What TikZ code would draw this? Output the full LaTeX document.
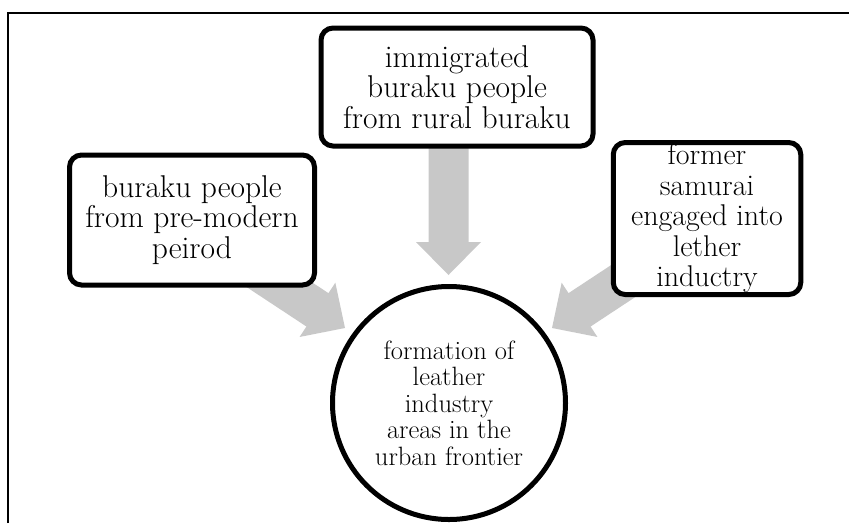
\documentclass[tikz,border=0pt]{standalone}
\usepackage{fontspec}
\setmainfont{Latin Modern Roman}
\definecolor{arrowgray}{RGB}{200,200,200}
% block arrow: tip point, direction angle, total length
\newcommand\blockarrow[3]{%
  \fill[arrowgray, shift={(#1)}, rotate=#2]
    (0,0) -- (-33,-32.5) -- (-33,-20) -- (-#3,-20) -- (-#3,20)
    -- (-33,20) -- (-33,32.5) -- cycle;}
\begin{document}
\begin{tikzpicture}[x=1pt,y=-1pt,
  stepbox/.style={draw=black, line width=5pt, rounded corners=12pt,
    fill=white, inner sep=0pt, align=center,
    font=\fontsize{31.5}{30.5}\selectfont},
  goal/.style={circle, draw=black, line width=5pt, fill=white,
    inner sep=0pt, minimum size=233pt, align=center,
    font=\fontsize{26.5}{26.5}\selectfont},
  frame/.style={line width=2pt, draw=black}]
\useasboundingbox (0,0) rectangle (849,523);

% open frame: top and left sides
\coordinate (fbl) at (8,523);
\coordinate (ftl) at (8,13);
\coordinate (ftr) at (849,13);
\draw[frame] (fbl) -- (ftl) -- (ftr);

% arrow tips next to the circle
\coordinate (tipL) at (345,328);
\coordinate (tipC) at (448.5,275);
\coordinate (tipR) at (552,328);
\blockarrow{tipL}{-33.4}{115}
\blockarrow{tipC}{-90}{140}
\blockarrow{tipR}{213.4}{115}

% sources
\node[stepbox, minimum width=272pt, minimum height=118pt] (top) at (457,87)
  {immigrated\\buraku people\\from rural buraku};
\node[stepbox, minimum width=245pt, minimum height=130pt] (left) at (192,220)
  {buraku people\\from pre-modern\\peirod};
\node[stepbox, minimum width=187.5pt, minimum height=152pt,
  font=\fontsize{30}{30.5}\selectfont] (right) at (707,218.5)
  {former\\samurai\\engaged into\\lether\\inductry};

% result
\node[goal] (goal) at (449,403)
  {formation of\\leather\\industry\\areas in the\\urban frontier};
\end{tikzpicture}
\end{document}
